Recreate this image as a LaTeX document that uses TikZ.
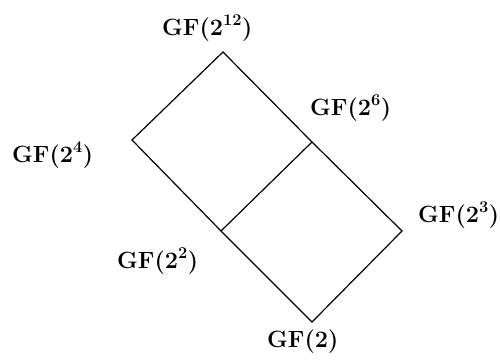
\documentclass[tikz,border=0pt]{standalone}
\begin{document}
\begin{tikzpicture}[x=1pt,y=-1pt,
  edge/.style={line width=1.2pt,line join=miter},
  lab/.style={inner sep=0pt,anchor=base west,font=\fontsize{23.5}{28}\selectfont\bfseries}]
\useasboundingbox (0,0) rectangle (500,359);
\coordinate (v12) at (223,52);
\coordinate (v4) at (132,140);
\coordinate (v6) at (312,142);
\coordinate (v2) at (221,231);
\coordinate (v3) at (402,231);
\coordinate (v1) at (312,322);
\draw[edge] (v4) -- (v12) -- (v6) -- (v3) -- (v1) -- (v2) -- cycle;
\draw[edge] (v2) -- (v6);
\node[lab] (l12) at (162,35) {GF(2\textsuperscript{12})};
\node[lab] (l6) at (310,115) {GF(2\textsuperscript{6})};
\node[lab] (l4) at (12,162) {GF(2\textsuperscript{4})};
\node[lab] (l3) at (418,222) {GF(2\textsuperscript{3})};
\node[lab] (l2) at (117,268) {GF(2\textsuperscript{2})};
\node[lab] (l1) at (267,347) {GF(2)};
\end{tikzpicture}
\end{document}
